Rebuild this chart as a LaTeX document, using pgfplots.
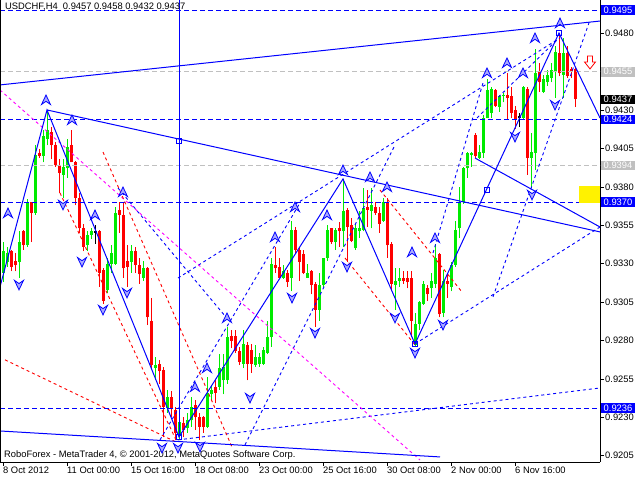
\documentclass[border=0pt]{standalone}
\usepackage{fontspec}
\setmainfont{Liberation Sans}
\usepackage{pgfplots}
\usepackage{pgfplotstable}
\pgfplotsset{compat=1.18}
\definecolor{mtblue}{RGB}{0,0,255}
\definecolor{cgreen}{RGB}{0,235,0}
\definecolor{cred}{RGB}{255,0,0}
\definecolor{cmag}{RGB}{255,0,255}
\definecolor{cgray}{RGB}{192,192,192}
\definecolor{afill}{RGB}{170,170,255}

\pgfdeclareplotmark{fup}{%
 \pgfpathmoveto{\pgfqpoint{0pt}{1.1\pgfplotmarksize}}%
 \pgfpathlineto{\pgfqpoint{\pgfplotmarksize}{-\pgfplotmarksize}}%
 \pgfpathlineto{\pgfqpoint{0pt}{-0.3\pgfplotmarksize}}%
 \pgfpathlineto{\pgfqpoint{-\pgfplotmarksize}{-\pgfplotmarksize}}%
 \pgfpathclose\pgfusepathqfillstroke}
\pgfdeclareplotmark{fdown}{%
 \pgfpathmoveto{\pgfqpoint{0pt}{-1.1\pgfplotmarksize}}%
 \pgfpathlineto{\pgfqpoint{\pgfplotmarksize}{\pgfplotmarksize}}%
 \pgfpathlineto{\pgfqpoint{0pt}{0.3\pgfplotmarksize}}%
 \pgfpathlineto{\pgfqpoint{-\pgfplotmarksize}{\pgfplotmarksize}}%
 \pgfpathclose\pgfusepathqfillstroke}
\pgfdeclareplotmark{redarrow}{%
 \pgfpathmoveto{\pgfqpoint{-2.5pt}{7pt}}%
 \pgfpathlineto{\pgfqpoint{2.5pt}{7pt}}%
 \pgfpathlineto{\pgfqpoint{2.5pt}{1pt}}%
 \pgfpathlineto{\pgfqpoint{5.5pt}{1pt}}%
 \pgfpathlineto{\pgfqpoint{0pt}{-6pt}}%
 \pgfpathlineto{\pgfqpoint{-5.5pt}{1pt}}%
 \pgfpathlineto{\pgfqpoint{-2.5pt}{1pt}}%
 \pgfpathclose\pgfusepathqfillstroke}
\pgfdeclareplotmark{nothing}{}

\pgfplotstableread{
k o h l c
0 0.9324 0.9344 0.9318 0.9338
1 0.9331 0.9341 0.9328 0.9337
4 0.9331 0.9351 0.9321 0.9344
6 0.9342 0.9372 0.9341 0.9370
8 0.9363 0.9407 0.9362 0.9401
10 0.9400 0.9417 0.9396 0.9413
11 0.9411 0.9430 0.9407 0.9417
15 0.9388 0.9398 0.9373 0.9393
16 0.9392 0.9411 0.9386 0.9406
21 0.9342 0.9351 0.9338 0.9349
22 0.9349 0.9353 0.9346 0.9351
26 0.9313 0.9334 0.9311 0.9330
27 0.9330 0.9342 0.9324 0.9337
28 0.9330 0.9367 0.9329 0.9363
32 0.9331 0.9342 0.9324 0.9338
35 0.9321 0.9332 0.9319 0.9327
38 0.9262 0.9269 0.9254 0.9264
41 0.9236 0.9248 0.9233 0.9243
44 0.9218 0.9230 0.9215 0.9227
46 0.9223 0.9233 0.9220 0.9228
47 0.9228 0.9243 0.9224 0.9237
51 0.9224 0.9256 0.9223 0.9246
52 0.9245 0.9251 0.9241 0.9248
54 0.9250 0.9271 0.9248 0.9262
55 0.9254 0.9271 0.9245 0.9263
56 0.9254 0.9289 0.9252 0.9282
60 0.9265 0.9287 0.9262 0.9278
63 0.9264 0.9277 0.9263 0.9269
64 0.9265 0.9272 0.9263 0.9269
65 0.9265 0.9276 0.9264 0.9274
66 0.9272 0.9293 0.9271 0.9282
67 0.9282 0.9334 0.9276 0.9330
70 0.9321 0.9329 0.9320 0.9325
72 0.9321 0.9358 0.9312 0.9352
76 0.9321 0.9330 0.9321 0.9324
79 0.9300 0.9324 0.9293 0.9316
80 0.9316 0.9334 0.9315 0.9334
81 0.9334 0.9355 0.9332 0.9352
83 0.9344 0.9353 0.9339 0.9352
85 0.9351 0.9385 0.9341 0.9364
88 0.9340 0.9356 0.9339 0.9353
89 0.9351 0.9364 0.9347 0.9353
90 0.9352 0.9379 0.9351 0.9366
92 0.9364 0.9379 0.9353 0.9368
95 0.9358 0.9373 0.9357 0.9370
98 0.9316 0.9327 0.9300 0.9319
99 0.9319 0.9327 0.9315 0.9321
103 0.9277 0.9298 0.9276 0.9291
104 0.9291 0.9306 0.9287 0.9305
105 0.9304 0.9319 0.9303 0.9317
107 0.9314 0.9324 0.9308 0.9319
108 0.9317 0.9343 0.9314 0.9334
110 0.9298 0.9326 0.9295 0.9319
112 0.9315 0.9331 0.9312 0.9329
113 0.9329 0.9358 0.9328 0.9352
114 0.9353 0.9380 0.9347 0.9370
115 0.9370 0.9393 0.9369 0.9392
116 0.9392 0.9403 0.9386 0.9402
117 0.9401 0.9403 0.9393 0.9402
119 0.9399 0.9407 0.9398 0.9403
120 0.9402 0.9427 0.9399 0.9425
121 0.9425 0.9450 0.9425 0.9443
122 0.9428 0.9445 0.9425 0.9444
124 0.9432 0.9440 0.9429 0.9439
125 0.9439 0.9441 0.9435 0.9440
130 0.9425 0.9446 0.9424 0.9445
132 0.9399 0.9415 0.9379 0.9403
133 0.9402 0.9470 0.9391 0.9454
135 0.9442 0.9453 0.9441 0.9450
136 0.9448 0.9456 0.9446 0.9453
137 0.9451 0.9461 0.9448 0.9456
138 0.9455 0.9472 0.9438 0.9468
140 0.9453 0.9477 0.9438 0.9467
}\upc

\pgfplotstableread{
k o h l c
2 0.9338 0.9339 0.9325 0.9328
3 0.9332 0.9337 0.9325 0.9329
5 0.9351 0.9352 0.9339 0.9342
7 0.9370 0.9370 0.9344 0.9363
9 0.9402 0.9405 0.9399 0.9400
12 0.9416 0.9419 0.9398 0.9407
13 0.9407 0.9409 0.9393 0.9394
14 0.9394 0.9398 0.9376 0.9389
17 0.9407 0.9417 0.9396 0.9396
18 0.9396 0.9397 0.9368 0.9373
19 0.9373 0.9376 0.9350 0.9353
20 0.9353 0.9356 0.9338 0.9341
24 0.9351 0.9352 0.9315 0.9324
25 0.9326 0.9327 0.9304 0.9306
29 0.9365 0.9370 0.9350 0.9362
30 0.9362 0.9370 0.9321 0.9327
31 0.9332 0.9342 0.9315 0.9328
33 0.9338 0.9341 0.9324 0.9329
34 0.9329 0.9334 0.9317 0.9323
36 0.9327 0.9328 0.9290 0.9295
37 0.9293 0.9308 0.9262 0.9264
39 0.9265 0.9267 0.9252 0.9260
40 0.9261 0.9263 0.9217 0.9237
42 0.9243 0.9247 0.9230 0.9236
43 0.9235 0.9237 0.9215 0.9220
45 0.9226 0.9230 0.9217 0.9222
48 0.9238 0.9241 0.9222 0.9230
49 0.9230 0.9233 0.9215 0.9224
50 0.9230 0.9231 0.9220 0.9224
53 0.9250 0.9254 0.9239 0.9246
57 0.9283 0.9287 0.9275 0.9280
58 0.9283 0.9287 0.9272 0.9273
59 0.9273 0.9276 0.9264 0.9266
61 0.9277 0.9279 0.9254 0.9265
62 0.9274 0.9278 0.9259 0.9265
68 0.9329 0.9341 0.9324 0.9327
69 0.9328 0.9334 0.9321 0.9321
71 0.9324 0.9326 0.9315 0.9318
73 0.9352 0.9354 0.9337 0.9339
74 0.9339 0.9341 0.9319 0.9331
75 0.9336 0.9339 0.9323 0.9324
77 0.9325 0.9326 0.9310 0.9316
78 0.9317 0.9318 0.9289 0.9300
82 0.9353 0.9353 0.9343 0.9344
84 0.9353 0.9357 0.9341 0.9351
86 0.9365 0.9366 0.9331 0.9354
87 0.9355 0.9360 0.9344 0.9345
91 0.9367 0.9378 0.9354 0.9365
93 0.9367 0.9370 0.9362 0.9363
94 0.9363 0.9367 0.9350 0.9356
96 0.9370 0.9373 0.9334 0.9342
97 0.9343 0.9344 0.9312 0.9317
100 0.9321 0.9325 0.9317 0.9319
101 0.9321 0.9325 0.9314 0.9318
102 0.9321 0.9325 0.9282 0.9293
106 0.9314 0.9316 0.9306 0.9310
109 0.9336 0.9337 0.9295 0.9297
111 0.9319 0.9324 0.9308 0.9317
118 0.9414 0.9415 0.9399 0.9400
123 0.9443 0.9444 0.9432 0.9433
126 0.9440 0.9454 0.9424 0.9438
127 0.9439 0.9445 0.9425 0.9428
128 0.9430 0.9433 0.9418 0.9424
131 0.9444 0.9445 0.9388 0.9399
134 0.9455 0.9461 0.9442 0.9448
139 0.9467 0.9480 0.9452 0.9454
141 0.9467 0.9472 0.9451 0.9452
142 0.9457 0.9458 0.9451 0.9455
143 0.9457 0.9458 0.9432 0.9437
}\downc

\pgfplotstableread{
k o h l c
23 0.9350 0.9355 0.9343 0.9351
129 0.9425 0.9428 0.9419 0.9425
}\dojic

\pgfplotstableread{
k p
1.25 0.93630
10.75 0.94366
17.25 0.94236
23 0.93617
30 0.93767
48 0.92498
51 0.92621
56 0.92947
68 0.93474
73 0.93669
81 0.93617
85 0.93910
91.75 0.93865
96 0.93800
102.25 0.93376
108 0.93468
121 0.94542
126 0.94607
130 0.94542
133 0.94770
139.25 0.94867
}\uparr

\pgfplotstableread{
k p
4 0.93162
15 0.93683
19.75 0.93311
25 0.92999
31 0.93110
39.75 0.92100
43.75 0.92100
49.25 0.92107
61.75 0.92426
72.25 0.93077
78 0.92849
86 0.93279
98 0.92947
103 0.92719
110 0.92901
128 0.94125
132.25 0.93748
138 0.94333
}\downarr

\begin{document}
\begin{tikzpicture}
\path[use as bounding box] (0,0) rectangle (640bp,480bp);
\begin{axis}[
  at={(0bp,480bp)}, anchor=north west,
  width=600bp, height=462bp, scale only axis,
  xmin=-0.75, xmax=149.25, ymin=0.92009, ymax=0.95017,
  clip=false,
  axis x line*=bottom, axis y line*=right,
  axis line style={black, line width=0.8bp, -},
  tick style={black, line width=0.8bp},
  tick align=outside, major tick length=4bp,
  font=\fontsize{9.4}{11}\selectfont,
  xtick={0,16,32,48,64,80,96,112,128},
  xticklabels={8 Oct 2012,11 Oct 00:00,15 Oct 16:00,18 Oct 08:00,23 Oct 00:00,25 Oct 16:00,30 Oct 08:00,2 Nov 00:00,6 Nov 16:00},
  xticklabel style={anchor=north west, inner sep=0pt, xshift=0bp, yshift=-1bp},
  ytick={0.9205,0.923,0.9255,0.928,0.9305,0.933,0.9355,0.938,0.9405,0.943,0.9455,0.948},
  yticklabel style={anchor=west, inner sep=0pt, xshift=1bp,
    /pgf/number format/.cd, fixed, fixed zerofill, precision=4, assume math mode=true},
  scaled y ticks=false,
  candle/.style={only marks, mark=nothing, forget plot, error bars/y dir=plus, error bars/y explicit, error bars/error mark=none},
]
% candle wicks and bodies
\addplot[candle, error bars/error bar style={line width=1bp, color=cgreen}] table[x=k, y=l, y error expr=\thisrow{h}-\thisrow{l}] {\upc};
\addplot[candle, error bars/error bar style={line width=3bp, color=cgreen}] table[x=k, y=o, y error expr=\thisrow{c}-\thisrow{o}] {\upc};
\addplot[candle, error bars/error bar style={line width=1bp, color=cred}] table[x=k, y=l, y error expr=\thisrow{h}-\thisrow{l}] {\downc};
\addplot[candle, error bars/error bar style={line width=3bp, color=cred}] table[x=k, y=c, y error expr=\thisrow{o}-\thisrow{c}] {\downc};
\addplot[candle, error bars/error bar style={line width=1bp, color=black}] table[x=k, y=l, y error expr=\thisrow{h}-\thisrow{l}] {\dojic};
\addplot[candle, error bars/error bar style={line width=3bp, color=black}] table[x=k, y=o, y error expr=0.0001] {\dojic};

% horizontal levels
\addplot[mtblue, line width=1bp, dash pattern=on 5bp off 3bp] coordinates {(-0.75,0.9495) (149.25,0.9495)};
\addplot[mtblue, line width=1bp, dash pattern=on 5bp off 3bp] coordinates {(-0.75,0.9424) (149.25,0.9424)};
\addplot[mtblue, line width=1bp, dash pattern=on 5bp off 3bp] coordinates {(-0.75,0.9370) (149.25,0.9370)};
\addplot[mtblue, line width=1bp, dash pattern=on 5bp off 3bp] coordinates {(-0.75,0.9236) (149.25,0.9236)};
\addplot[cgray, line width=1bp, dash pattern=on 5bp off 3bp] coordinates {(-0.75,0.9455) (149.25,0.9455)};
\addplot[cgray, line width=1bp, dash pattern=on 5bp off 3bp] coordinates {(-0.75,0.9394) (149.25,0.9394)};

% dotted fan / channel lines
\addplot[mtblue, line width=0.9bp, dash pattern=on 3bp off 3bp] coordinates {(103,0.92778) (149.25,0.93539)};
\addplot[mtblue, line width=0.9bp, dash pattern=on 3bp off 3bp] coordinates {(43.75,0.92153) (149.25,0.92491)};
\addplot[mtblue, line width=0.9bp, dash pattern=on 3bp off 3bp] coordinates {(43.75,0.93207) (139.25,0.94770)};
\addplot[mtblue, line width=0.9bp, dash pattern=on 3bp off 3bp] coordinates {(28.75,0.93793) (56.75,0.92921)};
\addplot[mtblue, line width=0.9bp, dash pattern=on 3bp off 3bp] coordinates {(39.25,0.92153) (74.25,0.93696)};
\addplot[mtblue, line width=0.9bp, dash pattern=on 3bp off 3bp] coordinates {(60.5,0.92120) (98,0.94073)};
\addplot[mtblue, line width=0.9bp, dash pattern=on 3bp off 3bp] coordinates {(122.5,0.93084) (146.75,0.94887)};
\addplot[mtblue, line width=0.9bp, dash pattern=on 3bp off 3bp] coordinates {(107.5,0.93370) (120,0.94477)};
\addplot[mtblue, line width=0.9bp, dash pattern=on 3bp off 3bp] coordinates {(118.5,0.94249) (138.5,0.94757)};
\addplot[cmag, line width=0.9bp, dash pattern=on 3bp off 3bp] coordinates {(-0.75,0.94431) (104.25,0.92022)};
\addplot[cred, line width=0.9bp, dash pattern=on 3bp off 3bp] coordinates {(25,0.94027) (57.25,0.92107)};
\addplot[cred, line width=0.9bp, dash pattern=on 3bp off 3bp] coordinates {(14.25,0.93761) (43.25,0.92153)};
\addplot[cred, line width=0.9bp, dash pattern=on 3bp off 3bp] coordinates {(0.5,0.92674) (43.75,0.92133)};
\addplot[cred, line width=0.9bp, dash pattern=on 3bp off 3bp] coordinates {(85.5,0.93337) (103,0.92771)};
\addplot[cred, line width=0.9bp, dash pattern=on 3bp off 3bp] coordinates {(94.25,0.93780) (114.75,0.93116)};

% solid trend lines and zigzag
\addplot[mtblue, line width=1bp] coordinates {(-0.75,0.94464) (149.25,0.94880)};
\addplot[mtblue, line width=1bp] coordinates {(11,0.94301) (149.25,0.93507)};
\addplot[mtblue, line width=1bp] coordinates {(118,0.93988) (149.25,0.93539)};
\addplot[mtblue, line width=1bp] coordinates {(-0.75,0.92211) (109.25,0.92042)};
\addplot[mtblue, line width=1bp] coordinates {(44,0.95017) (44,0.92172)};
\addplot[mtblue, line width=1bp] coordinates {(-0.75,0.93149) (11,0.94301) (44,0.92172) (85,0.93852) (103,0.92778) (139,0.94802) (149.25,0.94249)};
\addplot[only marks, mark=square, mark size=2.5bp, mtblue, fill=white, line width=0.9bp] coordinates {(44,0.94100) (44,0.92172) (103,0.92778) (121,0.93781) (139,0.94802)};

% fractal-like arrows
\addplot[only marks, mark=fup, mark size=4.5bp, draw=mtblue, fill=afill, line width=0.8bp] table[x=k, y=p] {\uparr};
\addplot[only marks, mark=fdown, mark size=4.5bp, draw=mtblue, fill=afill, line width=0.8bp] table[x=k, y=p] {\downarr};
\addplot[only marks, mark=redarrow, draw=cred, fill=white, line width=0.8bp] coordinates {(146.75,0.94607)};

% yellow zone
\addplot[fill=yellow, draw=none] coordinates {(144,0.93806) (149.25,0.93806) (149.25,0.93696) (144,0.93696)} -- cycle;

% left border
\draw[black, line width=0.8bp] (rel axis cs:0,0) -- (rel axis cs:0,1);

% texts
\node[anchor=north west, inner sep=0pt] at ([xshift=5bp,yshift=-3bp]rel axis cs:0,1) {USDCHF,H4\ \ 0.9457 0.9458 0.9432 0.9437};
\node[anchor=base west, inner sep=0pt] at ([xshift=4bp,yshift=4bp]rel axis cs:0,0) {RoboForex - MetaTrader 4, \textcopyright{} 2001-2012, MetaQuotes Software Corp.};

% price labels
\node[anchor=west, fill=mtblue, text=white, inner xsep=2.5bp, inner ysep=1.5bp] at ([xshift=1bp]axis cs:149.25,0.9495) {0.9495};
\node[anchor=west, fill=cgray, text=white, inner xsep=2.5bp, inner ysep=1.5bp] at ([xshift=1bp]axis cs:149.25,0.9455) {0.9455};
\node[anchor=west, fill=black, text=white, inner xsep=2.5bp, inner ysep=1.5bp] at ([xshift=1bp]axis cs:149.25,0.9437) {0.9437};
\node[anchor=west, fill=mtblue, text=white, inner xsep=2.5bp, inner ysep=1.5bp] at ([xshift=1bp]axis cs:149.25,0.9424) {0.9424};
\node[anchor=west, fill=cgray, text=white, inner xsep=2.5bp, inner ysep=1.5bp] at ([xshift=1bp]axis cs:149.25,0.9394) {0.9394};
\node[anchor=west, fill=mtblue, text=white, inner xsep=2.5bp, inner ysep=1.5bp] at ([xshift=1bp]axis cs:149.25,0.9370) {0.9370};
\node[anchor=west, fill=mtblue, text=white, inner xsep=2.5bp, inner ysep=1.5bp] at ([xshift=1bp]axis cs:149.25,0.9236) {0.9236};
\end{axis}
\end{tikzpicture}
\end{document}
